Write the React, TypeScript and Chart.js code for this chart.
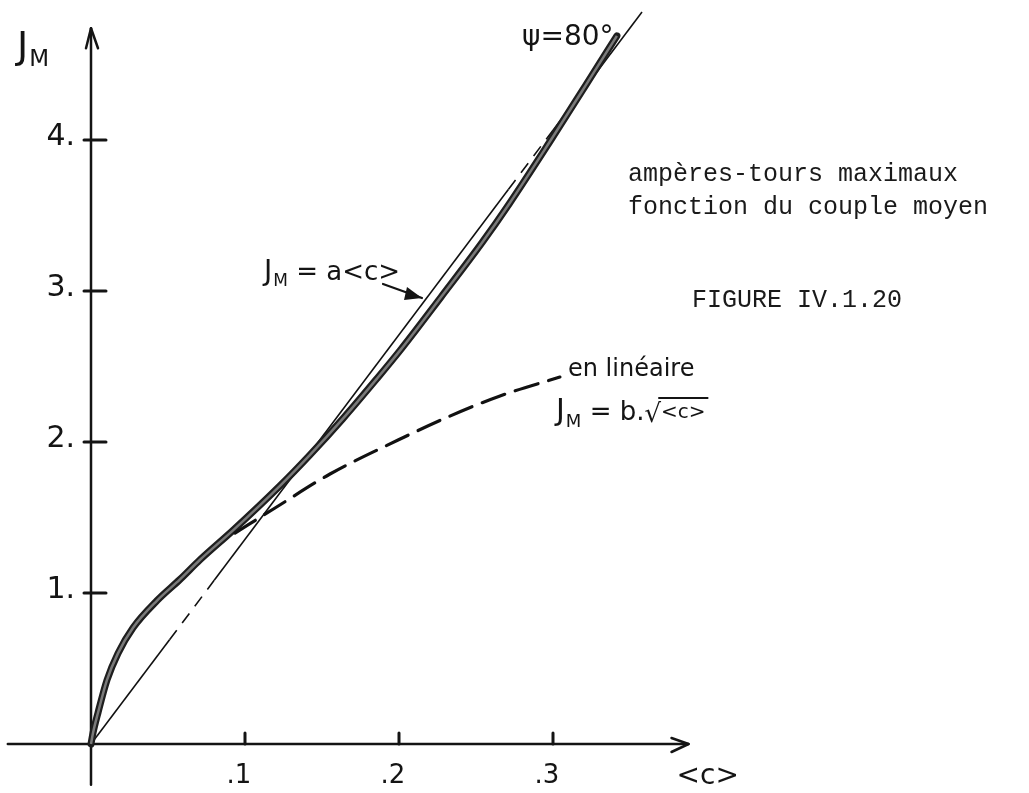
import React, { useEffect, useRef } from "react";
import { Chart, registerables } from "chart.js";

Chart.register(...registerables);

// ---- data ----
const xTicks = [0.1, 0.2, 0.3];
const xTickLabels = [".1", ".2", ".3"];
const yTicks = [1, 2, 3, 4];
const yTickLabels = ["1.", "2.", "3.", "4."];

// measured curve, psi = 80°
const psi80C = [0, 0.0013, 0.0045, 0.0104, 0.0175, 0.0273, 0.0429, 0.0578, 0.0708, 0.0922, 0.1227, 0.1422, 0.1636, 0.1857, 0.2006, 0.2273, 0.2539, 0.2714, 0.298, 0.3208, 0.3415];
const psi80J = [0, 0.073, 0.205, 0.424, 0.6, 0.77, 0.95, 1.09, 1.22, 1.415, 1.71, 1.915, 2.155, 2.42, 2.605, 2.96, 3.32, 3.575, 3.99, 4.355, 4.69];

// straight line J_M = a<c>
const linearC = [0, 0.051, 0.08, 0.271, 0.3, 0.3578];
const linearJ = [0, 0.69, 1.084, 3.672, 4.065, 4.848];
const linearDashedSegments = [1, 3];

// "en linéaire" J_M = b.sqrt(<c>)
const sqrtC = [0.0935, 0.1195, 0.1552, 0.1994, 0.2318, 0.2656, 0.3045];
const sqrtJ = [1.397, 1.563, 1.788, 2.013, 2.166, 2.305, 2.43];

// axis extents (data units)
const axisCRange = [-0.054, 0.388];
const axisJRange = [-0.27, 4.74];

const W = 1029;
const H = 793;

const HAND = "'DejaVu Sans', 'Liberation Sans', sans-serif";
const MONO = "'Liberation Mono', 'DejaVu Sans Mono', monospace";

function pts(xs: number[], ys: number[]) {
  return xs.map((v, i) => ({ x: v, y: ys[i] }));
}

function drawJM(ctx: CanvasRenderingContext2D, x: number, base: number, size: number) {
  ctx.font = `${size}px ${HAND}`;
  ctx.textAlign = "left";
  ctx.textBaseline = "alphabetic";
  ctx.fillText("J", x, base);
  let cx = x + ctx.measureText("J").width + 1;
  ctx.font = `${Math.round(size * 0.6)}px ${HAND}`;
  ctx.fillText("M", cx, base + size * 0.22);
  cx += ctx.measureText("M").width;
  return cx;
}

const overlay = {
  id: "overlay",
  beforeDatasetsDraw(chart: any) {
    const { ctx, scales } = chart;
    const X = (v: number) => scales.x.getPixelForValue(v);
    const Y = (v: number) => scales.y.getPixelForValue(v);
    ctx.save();
    ctx.strokeStyle = "#141414";
    ctx.lineCap = "round";
    ctx.lineJoin = "round";
    ctx.lineWidth = 2.5;
    // x axis
    ctx.beginPath();
    ctx.moveTo(X(axisCRange[0]), Y(0));
    ctx.lineTo(X(axisCRange[1]), Y(0));
    ctx.stroke();
    const tx = X(axisCRange[1]);
    ctx.beginPath();
    ctx.moveTo(tx - 17, Y(0) - 6);
    ctx.lineTo(tx, Y(0));
    ctx.lineTo(tx - 17, Y(0) + 8);
    ctx.stroke();
    // y axis
    ctx.beginPath();
    ctx.moveTo(X(0), Y(axisJRange[0]));
    ctx.lineTo(X(0), Y(axisJRange[1]));
    ctx.stroke();
    const ty = Y(axisJRange[1]);
    ctx.beginPath();
    ctx.moveTo(X(0) - 5, ty + 20);
    ctx.lineTo(X(0), ty);
    ctx.lineTo(X(0) + 7, ty + 20);
    ctx.stroke();
    // ticks
    ctx.lineWidth = 3;
    yTicks.forEach((t) => {
      ctx.beginPath();
      ctx.moveTo(X(0) - 7, Y(t));
      ctx.lineTo(X(0) + 15, Y(t));
      ctx.stroke();
    });
    xTicks.forEach((t) => {
      ctx.beginPath();
      ctx.moveTo(X(t), Y(0));
      ctx.lineTo(X(t), Y(0) - 11);
      ctx.stroke();
    });
    ctx.restore();
  },
  afterDatasetsDraw(chart: any) {
    const { ctx, scales } = chart;
    const X = (v: number) => scales.x.getPixelForValue(v);
    const Y = (v: number) => scales.y.getPixelForValue(v);
    ctx.save();
    ctx.fillStyle = "#141414";
    ctx.strokeStyle = "#141414";

    // tick labels
    ctx.font = `30px ${HAND}`;
    ctx.textAlign = "right";
    ctx.textBaseline = "middle";
    yTicks.forEach((t, i) => {
      ctx.fillText(yTickLabels[i], X(0) - 16, Y(t) - 3);
    });
    ctx.font = `26px ${HAND}`;
    ctx.textAlign = "center";
    xTicks.forEach((t, i) => {
      ctx.fillText(xTickLabels[i], X(t) - 6, Y(0) + 32);
    });

    // axis titles
    drawJM(ctx, 17, 58, 38);
    ctx.font = `28px ${HAND}`;
    ctx.textAlign = "left";
    ctx.textBaseline = "middle";
    ctx.fillText("<c>", X(axisCRange[1]) - 12, Y(0) + 33);

    // psi = 80°
    ctx.font = `28px ${HAND}`;
    ctx.textAlign = "left";
    ctx.textBaseline = "middle";
    ctx.fillText("ψ=80°", 522, 38);

    // J_M = a<c> with arrow
    let cx = drawJM(ctx, 264, 280, 28);
    ctx.font = `26px ${HAND}`;
    ctx.textBaseline = "alphabetic";
    ctx.fillText(" = a<c>", cx, 280);
    ctx.lineWidth = 2.2;
    ctx.lineCap = "round";
    const ax0 = 383, ay0 = 284, ax1 = 422, ay1 = 298;
    ctx.beginPath();
    ctx.moveTo(ax0, ay0);
    ctx.lineTo(ax1, ay1);
    ctx.stroke();
    ctx.beginPath();
    ctx.moveTo(ax1, ay1);
    ctx.lineTo(ax1 - 15, ay1 - 11);
    ctx.lineTo(ax1 - 18, ay1 + 2);
    ctx.closePath();
    ctx.fill();

    // en linéaire  J_M = b.sqrt(<c>)
    ctx.font = `24px ${HAND}`;
    ctx.textAlign = "left";
    ctx.textBaseline = "alphabetic";
    ctx.fillText("en linéaire", 568, 376);
    cx = drawJM(ctx, 556, 420, 30);
    ctx.font = `26px ${HAND}`;
    const pre = " = b.";
    ctx.fillText(pre, cx, 420);
    cx += ctx.measureText(pre).width;
    ctx.fillText("√", cx, 422);
    cx += ctx.measureText("√").width;
    ctx.font = `20px ${HAND}`;
    ctx.fillText("<c>", cx, 418);
    const w = ctx.measureText("<c>").width;
    ctx.lineWidth = 2;
    ctx.beginPath();
    ctx.moveTo(cx - 2, 398);
    ctx.lineTo(cx + w + 2, 398);
    ctx.stroke();

    // typed caption
    ctx.font = `25px ${MONO}`;
    ctx.fillStyle = "#1a1a1a";
    ctx.textBaseline = "middle";
    ctx.fillText("ampères-tours maximaux", 628, 174);
    ctx.fillText("fonction du couple moyen", 628, 207);
    ctx.fillText("FIGURE IV.1.20", 692, 300);
    ctx.restore();
  },
};

export default function App() {
  const ref = useRef<HTMLCanvasElement | null>(null);
  useEffect(() => {
    if (!ref.current) return;
    const chart = new Chart(ref.current, {
      type: "line",
      data: {
        datasets: [
          {
            label: "a<c>",
            data: pts(linearC, linearJ),
            borderColor: "#111",
            borderWidth: 1.6,
            pointRadius: 0,
            tension: 0,
            segment: {
              borderDash: (c: any) => (linearDashedSegments.includes(c.p0DataIndex) ? [12, 9] : undefined),
            },
            order: 3,
          },
          {
            label: "psi80 outline",
            data: pts(psi80C, psi80J),
            borderColor: "#1e1e1e",
            borderWidth: 7,
            pointRadius: 0,
            cubicInterpolationMode: "monotone",
            borderCapStyle: "round",
            order: 2,
          },
          {
            label: "psi80 inner",
            data: pts(psi80C, psi80J),
            borderColor: "#7a7a7a",
            borderWidth: 2.5,
            pointRadius: 0,
            cubicInterpolationMode: "monotone",
            order: 1,
          },
          {
            label: "sqrt",
            data: pts(sqrtC, sqrtJ),
            borderColor: "#111",
            borderWidth: 3.2,
            borderDash: [24, 11],
            borderCapStyle: "round",
            pointRadius: 0,
            cubicInterpolationMode: "monotone",
            order: 0,
          },
        ],
      },
      options: {
        animation: false,
        responsive: false,
        devicePixelRatio: 1,
        layout: { padding: 0 },
        plugins: { legend: { display: false }, tooltip: { enabled: false } },
        scales: {
          x: { type: "linear", display: false, min: -91 / 1540, max: (W - 91) / 1540 },
          y: { type: "linear", display: false, min: -(H - 744) / 151, max: 744 / 151 },
        },
      },
      plugins: [overlay],
    } as any);
    return () => chart.destroy();
  }, []);
  return (
    <div style={{ position: "absolute", left: 0, top: 0, width: W, height: H, background: "#fff" }}>
      <canvas ref={ref} width={W} height={H} style={{ display: "block" }} />
    </div>
  );
}
